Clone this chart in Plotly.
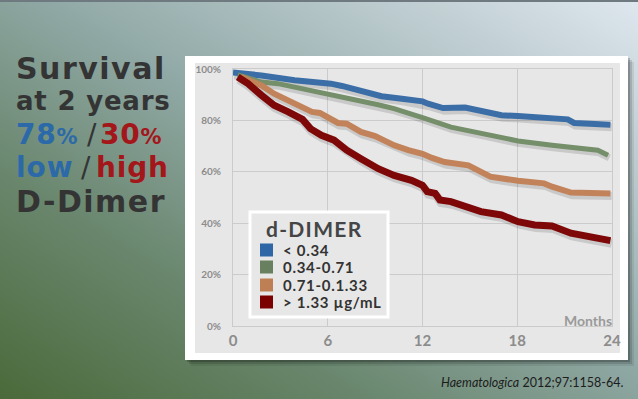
import base64
import plotly.graph_objects as go

# ---------------- data ----------------
months_lt034 = [0.0, 1.8, 3.9, 5.4, 6.2, 6.9, 8.1, 9.4, 10.7, 12.0, 12.35, 13.3, 14.7, 15.5, 17.0, 18.05, 19.7, 21.2, 21.6, 22.7, 23.9]
surv_lt034 = [98.6, 97.5, 95.6, 94.9, 94.3, 93.4, 91.3, 89.4, 88.4, 87.4, 86.5, 84.8, 85.0, 83.9, 82.0, 81.7, 81.3, 80.4, 79.0, 78.7, 78.3]

months_034_071 = [0.3, 1.8, 2.85, 3.9, 5.0, 6.0, 7.1, 8.1, 9.2, 10.2, 11.3, 12.0, 13.8, 15.9, 18.05, 20.2, 22.3, 23.1, 23.75]
surv_034_071 = [97.7, 94.9, 94.3, 93.0, 91.7, 90.4, 89.1, 87.8, 86.1, 84.6, 82.6, 81.1, 77.4, 74.8, 72.0, 70.3, 68.7, 68.4, 66.4]

months_071_133 = [0.5, 1.8, 2.6, 3.3, 4.1, 5.0, 5.5, 6.0, 6.65, 7.2, 8.1, 9.0, 10.2, 11.1, 12.0, 12.6, 13.4, 14.9, 16.3, 18.05, 19.7, 20.2, 21.0, 21.4, 23.9]
surv_071_133 = [97.0, 93.6, 90.4, 88.4, 86.5, 83.3, 82.9, 81.3, 79.0, 78.7, 75.5, 73.9, 70.3, 68.4, 67.0, 65.4, 63.8, 62.5, 58.1, 56.5, 55.5, 54.2, 52.9, 51.9, 51.6]

months_gt133 = [0.3, 0.95, 1.8, 2.6, 3.5, 4.4, 4.9, 5.6, 6.4, 7.2, 8.1, 9.2, 10.2, 11.3, 12.0, 12.3, 12.8, 13.1, 13.8, 15.7, 17.0, 18.05, 19.1, 20.2, 21.4, 23.9]
surv_gt133 = [96.9, 94.3, 89.8, 85.9, 83.3, 80.4, 76.8, 74.2, 72.3, 68.4, 65.1, 61.2, 58.6, 56.7, 54.7, 52.3, 51.6, 49.0, 48.4, 44.5, 43.2, 40.6, 39.3, 38.9, 36.1, 33.2]

series_names = ["< 0.34", "0.34-0.71", "0.71-0.1.33", "> 1.33 \u00b5g/mL"]
legend_title = "d-DIMER"
x_ticks = [0, 6, 12, 18, 24]
y_ticks = [0, 20, 40, 60, 80, 100]
y_tick_labels = ["0%", "20%", "40%", "60%", "80%", "100%"]

line_colors = ["#3b6ea7", "#748f69", "#c3835a", "#7e0808"]
swatch_colors = ["#2f66a6", "#687f60", "#bf7f55", "#7b0000"]
line_widths = [6, 5, 6, 7]

W, H = 638, 399
L, R, T, B = 233, 612, 69, 326


def px(x):
    return (x - L) / (R - L)


def py(y):
    return (B - y) / (B - T)


fig = go.Figure()

series = [(months_lt034, surv_lt034), (months_034_071, surv_034_071),
          (months_071_133, surv_071_133), (months_gt133, surv_gt133)]
# soft drop shadows under the curves
for (xs, ys), w in zip(series, line_widths):
    fig.add_trace(go.Scatter(x=[v + 0.08 for v in xs], y=[v - 1.0 for v in ys], mode="lines",
                             line=dict(color="rgba(0,0,0,0.13)", width=w + 2),
                             showlegend=False, hoverinfo="skip"))
for (xs, ys), c, w, n in zip(series, line_colors, line_widths, series_names):
    fig.add_trace(go.Scatter(x=xs, y=ys, mode="lines", line=dict(color=c, width=w),
                             name=n, showlegend=False))

# background gradient
svg = f'''<svg xmlns="http://www.w3.org/2000/svg" width="{W}" height="{H}" viewBox="0 0 {W} {H}" preserveAspectRatio="none">
<defs><linearGradient id="g" x1="0" y1="1" x2="1" y2="0">
<stop offset="0" stop-color="#4b6a3a"/>
<stop offset="0.3" stop-color="#6b8870"/>
<stop offset="0.55" stop-color="#92aaa8"/>
<stop offset="1" stop-color="#dfe7ef"/>
</linearGradient></defs>
<rect width="{W}" height="{H}" fill="url(#g)"/>
<rect width="{W}" height="2" fill="#6f7a80"/>
</svg>'''
uri = "data:image/svg+xml;base64," + base64.b64encode(svg.encode()).decode()

fig.add_layout_image(dict(source=uri, xref="paper", yref="paper", x=px(0), y=py(0),
                          sizex=W / (R - L), sizey=H / (B - T), xanchor="left", yanchor="top",
                          sizing="stretch", layer="below"))


def rect(x0, x1, y0, y1, fill, line=None, layer="below"):
    return dict(type="rect", xref="paper", yref="paper", layer=layer,
                x0=px(x0), x1=px(x1), y0=py(y1), y1=py(y0),
                fillcolor=fill, line=line or dict(width=0))


shapes = []
for off, op in [(6, 0.08), (4, 0.13), (2, 0.2)]:
    shapes.append(rect(185 + off, 628 + off, 56 + off, 360 + off, f"rgba(0,0,0,{op})"))
shapes.append(rect(185, 628, 56, 360, "#ffffff"))
shapes.append(rect(195, 620, 63, 353, "#e7e7e7"))

# legend box (drawn above the grid like the original)
shapes.append(rect(250, 388, 212, 317, "#e7e7e7", dict(color="#ffffff", width=3), layer="above"))
legend_rows = [250, 267, 285, 302]
for c, yc in zip(swatch_colors, legend_rows):
    shapes.append(rect(260, 273, yc - 6.5, yc + 6.5, c, layer="above"))

blue, red, dark = "#2b69a8", "#a3161a", "#343434"


def lf(size, color=dark, weight="bold"):
    return dict(family="DejaVu Sans", weight=weight, size=size, color=color)


annotations = [
    dict(text='<span style="letter-spacing:1.5px">Survival</span>', x=px(14), y=py(68), font=lf(30)),
    dict(text='<span style="letter-spacing:0.8px">at 2 years</span>', x=px(14), y=py(101), font=lf(26)),
    dict(text='<span style="letter-spacing:0.7px">78</span><span style="font-size:21px">%</span>',
         x=px(14), y=py(134), font=lf(28, blue)),
    dict(text='/', x=px(85), y=py(134), font=lf(28, dark, "normal")),
    dict(text='<span style="letter-spacing:0.7px">30</span><span style="font-size:21px">%</span>',
         x=px(98), y=py(134), font=lf(28, red)),
    dict(text='<span style="letter-spacing:1px">low</span>', x=px(14), y=py(167), font=lf(28, blue)),
    dict(text='/', x=px(79), y=py(167), font=lf(28, dark, "normal")),
    dict(text='<span style="letter-spacing:0.8px">high</span>', x=px(94), y=py(167), font=lf(28, red)),
    dict(text='<span style="letter-spacing:1.5px">D-Dimer</span>', x=px(14), y=py(202), font=lf(30)),
]
for a in annotations:
    a.update(xref="paper", yref="paper", xanchor="left", yanchor="middle", showarrow=False)

annotations.append(dict(text=f'<span style="letter-spacing:1.3px">{legend_title}</span>',
                        xref="paper", yref="paper", x=px(264), y=py(228), xanchor="left",
                        yanchor="middle", showarrow=False,
                        font=dict(family="Lato", weight="bold", size=21, color="#454545")))
for n, yc in zip(series_names, legend_rows):
    annotations.append(dict(text=f'<span style="letter-spacing:0.7px">{n}</span>',
                            xref="paper", yref="paper", x=px(281), y=py(yc), xanchor="left",
                            yanchor="middle", showarrow=False,
                            font=dict(family="Lato", weight="bold", size=15, color="#333333")))

annotations.append(dict(text="Months", xref="paper", yref="paper", x=px(614), y=py(320),
                        xanchor="right", yanchor="middle", showarrow=False,
                        font=dict(family="Lato", weight="bold", size=14, color="#9a9a9a")))
annotations.append(dict(text="<i>Haematologica</i> 2012;97:1158-64.", xref="paper", yref="paper",
                        x=px(625), y=py(382), xanchor="right", yanchor="middle", showarrow=False,
                        font=dict(family="Lato", size=12.5, color="#1c1c1c")))

fig.update_layout(
    width=W, height=H,
    margin=dict(l=L, r=W - R, t=T, b=H - B, pad=0),
    paper_bgcolor="rgba(0,0,0,0)", plot_bgcolor="rgba(0,0,0,0)",
    shapes=shapes, annotations=annotations,
    showlegend=False,
)
fig.update_xaxes(range=[0, 24], tickvals=x_ticks, showgrid=True, gridcolor="#cbcbcb", gridwidth=1,
                 showline=True, linecolor="#cbcbcb", mirror=True, zeroline=False,
                 tickfont=dict(family="Lato", weight="bold", size=15, color="#8c8c8c"),
                 ticklabelstandoff=1, fixedrange=True)
fig.update_yaxes(range=[0, 100], tickvals=y_ticks, ticktext=y_tick_labels, showgrid=True,
                 gridcolor="#cbcbcb", gridwidth=1, showline=True, linecolor="#cbcbcb", mirror=True,
                 zeroline=False, tickfont=dict(family="Lato", weight="bold", size=10, color="#8c8c8c"),
                 ticklabelstandoff=9, fixedrange=True)

fig.write_html("out.html", config={"displayModeBar": False},
               post_script="document.body.style.margin='0px';document.body.style.padding='0px';")
